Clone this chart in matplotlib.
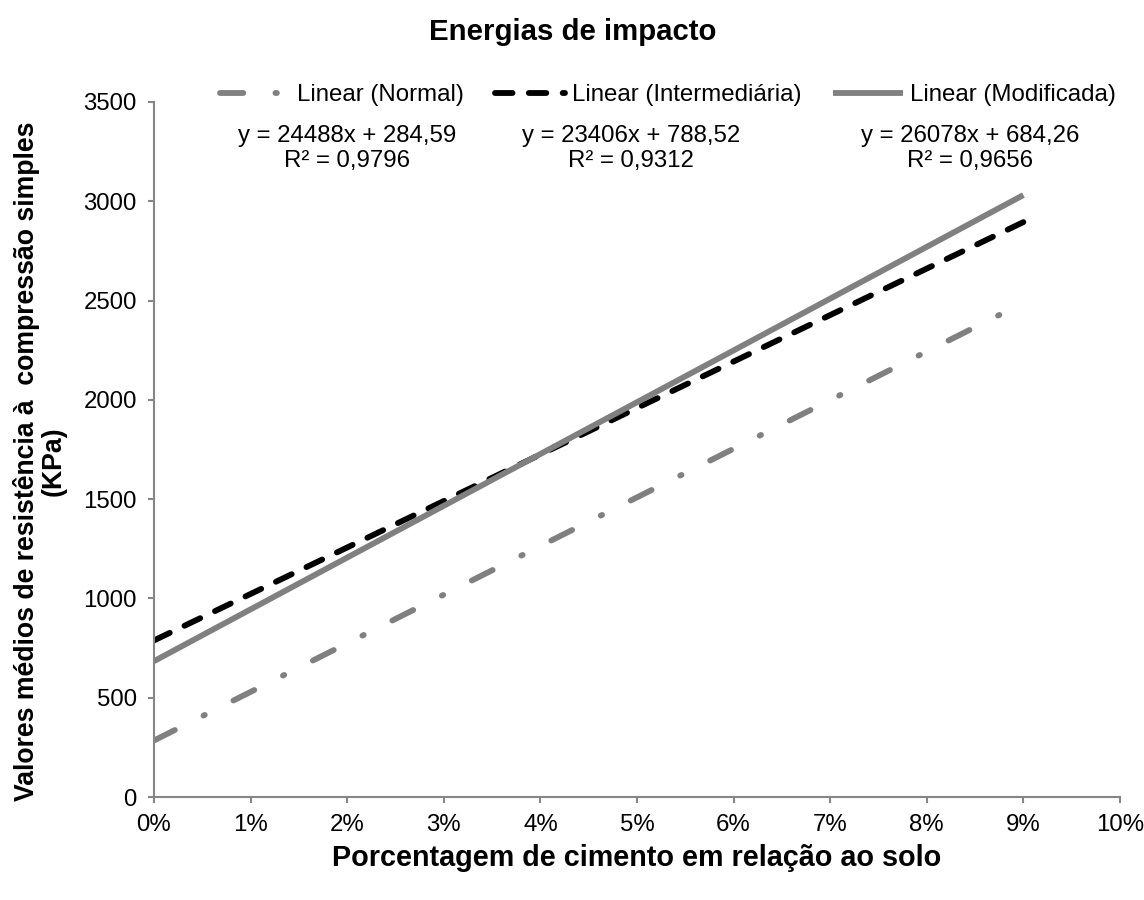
import matplotlib
matplotlib.use('Agg')
import matplotlib.pyplot as plt
import numpy as np
from matplotlib.ticker import PercentFormatter, MultipleLocator

plt.rcParams['font.family'] = ['Liberation Sans', 'DejaVu Sans']

# linhas de tendência (ajuste linear) para cada energia de compactação
energias = ['Normal', 'Intermediária', 'Modificada']
inclinacao = [24488, 23406, 26078]
intercepto = [284.59, 788.52, 684.26]
r2 = [0.9796, 0.9312, 0.9656]
x_fit = np.array([0.0, 0.09])

cores = ['#808080', '#000000', '#808080']
tracos = [(4, 5.5, 0.25, 5.5), (3, 2.8), None]
pos_eq = [0.200, 0.494, 0.845]

def fmt(v, casas):
    return ('%.*f' % (casas, v)).replace('.', ',')

fig = plt.figure(figsize=(11.44, 9.0), dpi=100)
ax = fig.add_axes([0.1346, 0.1144, 0.979 - 0.1346, 0.8867 - 0.1144])

cinza = '#868686'
for i, nome in enumerate(energias):
    y = inclinacao[i] * x_fit + intercepto[i]
    ln, = ax.plot(x_fit, y, color=cores[i], lw=4.2, solid_capstyle='butt',
                  dash_capstyle='round', label='Linear (%s)' % nome)
    if tracos[i] is not None:
        ln.set_dashes(tracos[i])

for i in range(3):
    txt = 'y = %dx + %s\nR² = %s' % (inclinacao[i], fmt(intercepto[i], 2), fmt(r2[i], 4))
    ax.text(pos_eq[i], 0.933, txt, transform=ax.transAxes, ha='center',
            va='center', multialignment='center', fontsize=17.3, linespacing=1.16)

ax.set_xlim(0, 0.10)
ax.set_ylim(0, 3500)
ax.xaxis.set_major_locator(MultipleLocator(0.01))
ax.xaxis.set_major_formatter(PercentFormatter(xmax=1, decimals=0))
ax.yaxis.set_major_locator(MultipleLocator(500))

for s in ['top', 'right']:
    ax.spines[s].set_visible(False)
for s in ['left', 'bottom']:
    ax.spines[s].set_color(cinza)
    ax.spines[s].set_linewidth(1.5)
ax.tick_params(axis='both', colors=cinza, labelcolor='black', labelsize=17.3,
               length=4.3, width=1.5, pad=8)

ax.legend(loc='center', bbox_to_anchor=(0.532, 1.010), ncol=3, frameon=False,
          fontsize=17.3, handlelength=2.9, handletextpad=0.3,
          columnspacing=1.3, borderaxespad=0)

fig.text(0.501, 0.964, 'Energias de impacto', ha='center', va='center',
         fontsize=21.2, fontweight='bold')

ax.set_xlabel('Porcentagem de cimento em relação ao solo', fontsize=20.7,
              fontweight='bold')
ax.xaxis.label.set_va('center')
ax.xaxis.set_label_coords(0.5, (797 - 858) / 695)

ax.set_ylabel('Valores médios de resistência à  compressão simples\n(KPa)',
              fontsize=19.2, fontweight='bold', linespacing=1.0)
ax.yaxis.label.set_va('center')
ax.yaxis.set_label_coords((40 - 154) / 966, (797 - 461) / 695)

fig.savefig('out.png', dpi=100)
